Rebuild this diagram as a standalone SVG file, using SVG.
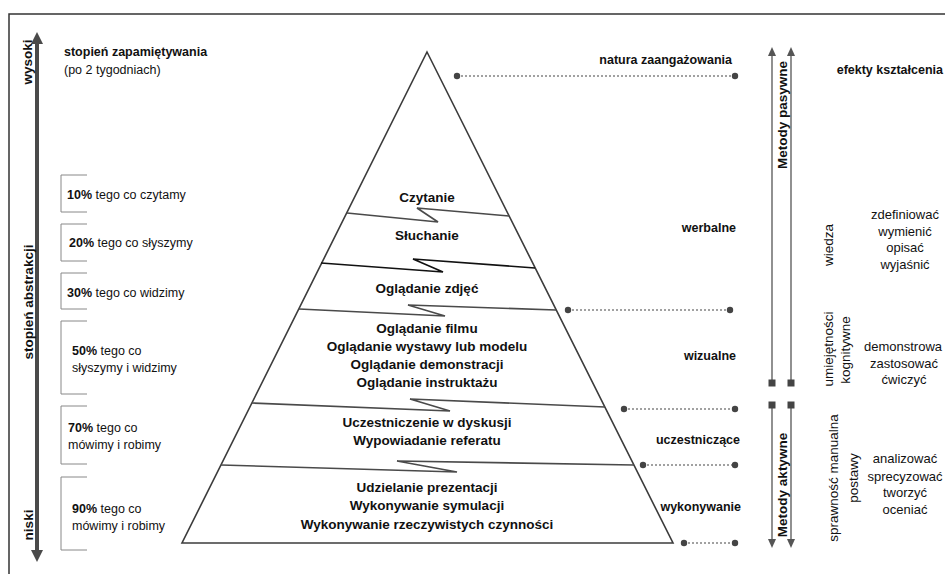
<svg xmlns="http://www.w3.org/2000/svg" width="945" height="574" viewBox="0 0 945 574">
<defs>
<style>
text{font-family:"Liberation Sans",Arial,sans-serif;fill:#111}
.b{font-weight:bold}
.lt{font-size:12.5px}
.pt{font-size:13.5px;font-weight:bold;text-anchor:middle}
.rl{font-size:12.5px;font-weight:bold;text-anchor:end}
.rc{font-size:13px;text-anchor:middle}
.rot{font-size:13.5px;text-anchor:middle}
.brk{fill:none;stroke:#888;stroke-width:1}
.pyr{fill:none;stroke:#3c3c3c;stroke-width:1.6;stroke-linejoin:miter}
.div{fill:none;stroke:#4a4a4a;stroke-width:1.6;stroke-linejoin:miter}
.dot{stroke:#444;stroke-width:1.2;stroke-dasharray:2 2}
.end{fill:#444}
.ax{stroke:#4a4a4a;stroke-width:4}
.ar{stroke:#555;stroke-width:1.3}
.sq{fill:#444}
</style>
<marker id="bighead" viewBox="0 0 12 12" refX="1" refY="6" markerWidth="12" markerHeight="12" markerUnits="userSpaceOnUse" orient="auto-start-reverse">
<path d="M0,0 L12,6 L0,12 z" fill="#4a4a4a"/>
</marker>
<marker id="head" viewBox="0 0 9 8" refX="1" refY="4" markerWidth="9" markerHeight="8" markerUnits="userSpaceOnUse" orient="auto">
<path d="M0,0 L9,4 L0,8 z" fill="#555"/>
</marker>
</defs>
<rect width="945" height="574" fill="#fff"/>
<path d="M9,574 V14 H945" fill="none" stroke="#333" stroke-width="1.5"/>

<g id="left-axis">
<line class="ax" x1="37" y1="551" x2="37" y2="43" marker-start="url(#bighead)" marker-end="url(#bighead)"/>
<text class="rot b" transform="translate(32,62) rotate(-90)">wysoki</text>
<text class="rot b" transform="translate(32.5,302) rotate(-90)">stopień abstrakcji</text>
<text class="rot b" transform="translate(32.5,525) rotate(-90)">niski</text>
</g>

<g id="retention-title">
<text class="lt b" x="64" y="56">stopień zapamiętywania</text>
<text class="lt" x="64" y="74">(po 2 tygodniach)</text>
</g>

<g id="ret-10">
<path class="brk" d="M87,175 H61 V212 H87"/>
<text class="lt" x="67" y="199"><tspan class="b">10%</tspan> tego co czytamy</text>
</g>
<g id="ret-20">
<path class="brk" d="M87,224 H61 V261 H87"/>
<text class="lt" x="69" y="247"><tspan class="b">20%</tspan> tego co słyszymy</text>
</g>
<g id="ret-30">
<path class="brk" d="M87,273 H61 V309 H87"/>
<text class="lt" x="67" y="297"><tspan class="b">30%</tspan> tego co widzimy</text>
</g>
<g id="ret-50">
<path class="brk" d="M87,321 H61 V394 H87"/>
<text class="lt" x="72" y="355"><tspan class="b">50%</tspan> tego co</text>
<text class="lt" x="72" y="372">słyszymy i widzimy</text>
</g>
<g id="ret-70">
<path class="brk" d="M87,406 H61 V464 H87"/>
<text class="lt" x="68" y="432"><tspan class="b">70%</tspan> tego co</text>
<text class="lt" x="68" y="449">mówimy i robimy</text>
</g>
<g id="ret-90">
<path class="brk" d="M87,477 H61 V550 H87"/>
<text class="lt" x="72" y="513"><tspan class="b">90%</tspan> tego co</text>
<text class="lt" x="72" y="530">mówimy i robimy</text>
</g>

<g id="pyramid">
<polygon class="pyr" points="427,52 673,543 182,543"/>
<path class="div" d="M347,213 L438,222 L417,208 L509,216"/>
<path class="div" d="M321,263 L443,272 L413,259 L535,268" style="stroke:#111"/>
<path class="div" d="M299,309 L445,316 L408,305 L556,310"/>
<path class="div" d="M252,403 L450,411 L410,399 L605,407"/>
<path class="div" d="M221,465 L457,472 L397,461 L634,465"/>
</g>

<g id="layer-czytanie"><text class="pt" x="427" y="202">Czytanie</text></g>
<g id="layer-sluchanie"><text class="pt" x="427" y="240">Słuchanie</text></g>
<g id="layer-zdjecia"><text class="pt" x="427" y="293">Oglądanie zdjęć</text></g>
<g id="layer-wizualne">
<text class="pt" x="427" y="333">Oglądanie filmu</text>
<text class="pt" x="427" y="351">Oglądanie wystawy lub modelu</text>
<text class="pt" x="427" y="369">Oglądanie demonstracji</text>
<text class="pt" x="427" y="387">Oglądanie instruktażu</text>
</g>
<g id="layer-uczestniczace">
<text class="pt" x="427" y="427">Uczestniczenie w dyskusji</text>
<text class="pt" x="427" y="445">Wypowiadanie referatu</text>
</g>
<g id="layer-wykonywanie">
<text class="pt" x="427" y="492">Udzielanie prezentacji</text>
<text class="pt" x="427" y="510">Wykonywanie symulacji</text>
<text class="pt" x="427" y="529">Wykonywanie rzeczywistych czynności</text>
</g>

<g id="connectors">
<line class="dot" x1="457" y1="76" x2="735" y2="76"/><circle class="end" cx="457" cy="76" r="3.2"/><circle class="end" cx="735" cy="76" r="3.2"/>
<line class="dot" x1="568" y1="310" x2="730" y2="310"/><circle class="end" cx="568" cy="310" r="3.2"/><circle class="end" cx="730" cy="310" r="3.2"/>
<line class="dot" x1="624" y1="409" x2="735" y2="409"/><circle class="end" cx="624" cy="409" r="3.2"/><circle class="end" cx="735" cy="409" r="3.2"/>
<line class="dot" x1="643" y1="465" x2="735" y2="465"/><circle class="end" cx="643" cy="465" r="3.2"/><circle class="end" cx="735" cy="465" r="3.2"/>
<line class="dot" x1="684" y1="543" x2="735" y2="543"/><circle class="end" cx="684" cy="543" r="3.2"/><circle class="end" cx="735" cy="543" r="3.2"/>
</g>

<g id="label-natura"><text class="rl" x="732" y="64">natura zaangażowania</text></g>
<g id="label-werbalne"><text class="rl" x="736" y="232">werbalne</text></g>
<g id="label-wizualne"><text class="rl" x="736" y="360">wizualne</text></g>
<g id="label-uczestniczace"><text class="rl" x="740" y="444">uczestniczące</text></g>
<g id="label-wykonywanie"><text class="rl" x="741" y="511">wykonywanie</text></g>

<g id="methods-passive">
<line class="ar" x1="772" y1="383" x2="772" y2="55" marker-end="url(#head)"/>
<line class="ar" x1="791" y1="383" x2="791" y2="55" marker-end="url(#head)"/>
<rect class="sq" x="768.5" y="379.5" width="7" height="7"/>
<rect class="sq" x="787.5" y="379.5" width="7" height="7"/>
<text class="rot b" transform="translate(786.5,115) rotate(-90)">Metody pasywne</text>
</g>
<g id="methods-active">
<line class="ar" x1="772" y1="405" x2="772" y2="540" marker-end="url(#head)"/>
<line class="ar" x1="791" y1="405" x2="791" y2="540" marker-end="url(#head)"/>
<rect class="sq" x="768.5" y="401.5" width="7" height="7"/>
<rect class="sq" x="787.5" y="401.5" width="7" height="7"/>
<text class="rot b" transform="translate(786.5,485) rotate(-90)">Metody aktywne</text>
</g>

<g id="domain-wiedza"><text class="rot" transform="translate(832.5,245) rotate(-90)">wiedza</text></g>
<g id="domain-kognitywne">
<text class="rot" transform="translate(832.5,349) rotate(-90)">umiejętności</text>
<text class="rot" transform="translate(849.5,350) rotate(-90)">kognitywne</text>
</g>
<g id="domain-manualna">
<text class="rot" transform="translate(837.5,478) rotate(-90)">sprawność manualna</text>
<text class="rot" transform="translate(857.5,478) rotate(-90)">postawy</text>
</g>

<g id="effects-title"><text class="rl" x="943" y="74">efekty kształcenia</text></g>
<g id="effects-wiedza">
<text class="rc" x="905" y="219">zdefiniować</text>
<text class="rc" x="905" y="236">wymienić</text>
<text class="rc" x="905" y="252">opisać</text>
<text class="rc" x="905" y="269">wyjaśnić</text>
</g>
<g id="effects-kognitywne">
<text class="rc" x="864" y="351" style="text-anchor:start">demonstrowa</text>
<text class="rc" x="904" y="368">zastosować</text>
<text class="rc" x="904" y="384">ćwiczyć</text>
</g>
<g id="effects-manualna">
<text class="rc" x="905" y="463">analizować</text>
<text class="rc" x="905" y="481">sprecyzować</text>
<text class="rc" x="905" y="497">tworzyć</text>
<text class="rc" x="905" y="514">oceniać</text>
</g>
</svg>
